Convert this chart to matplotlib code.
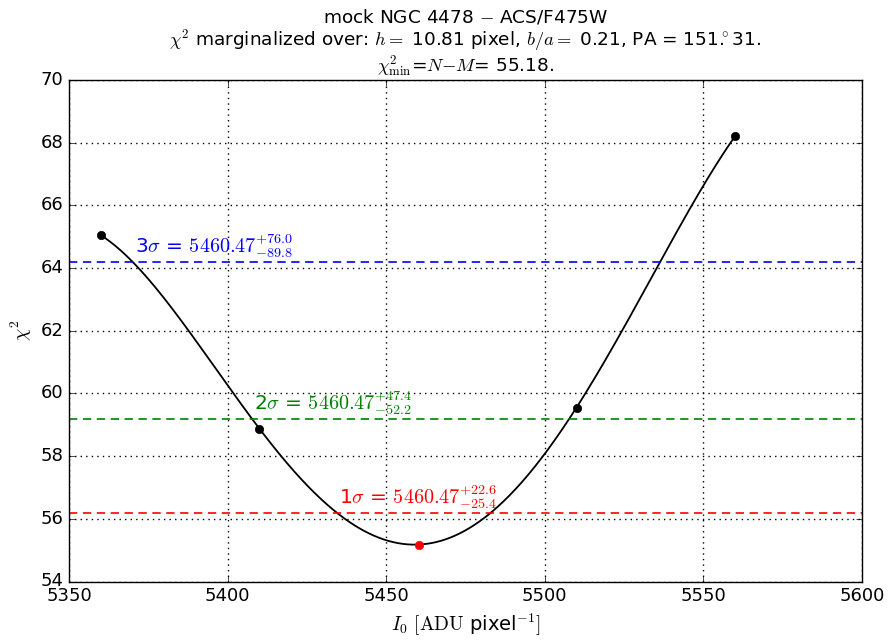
import numpy as np
import matplotlib
matplotlib.use("Agg")
import matplotlib.pyplot as plt

plt.style.use('classic')
plt.rcParams['mathtext.fontset'] = 'cm'
plt.rcParams['font.family'] = ['DejaVu Sans']

# data
I0 = [5360.0, 5410.0, 5460.47, 5510.0, 5560.0]
chi2 = [65.05, 58.88, 55.18, 59.55, 68.21]
best = 5460.47
chi2_min = 55.18
levels = [1, 2, 3]
delta = [1.0, 4.0, 9.0]
err_up = [22.6, 47.4, 76.0]
err_lo = [25.4, 52.2, 89.8]
colors = ['red', 'green', 'blue']

fig = plt.figure(figsize=(8.91, 6.41), dpi=100, facecolor='white')
ax = fig.add_axes([69 / 891, 1 - 581.5 / 641, (862 - 69) / 891, (581.5 - 80) / 641])

# smooth curve through the points (4th-order polynomial interpolant)
xc = np.asarray(I0) - best
coef = np.polyfit(xc, chi2, len(I0) - 1)
xs = np.linspace(I0[0], I0[-1], 400)
ax.plot(xs, np.polyval(coef, xs - best), color='black', lw=1.3)
for x, y in zip(I0, chi2):
    col = 'red' if x == best else 'black'
    ax.plot([x], [y], 'o', color=col, mec=col, ms=6)

for lv, d, eu, el, c in zip(levels, delta, err_up, err_lo, colors):
    ax.axhline(chi2_min + d, color=c, ls='--', lw=1.2, dashes=(6, 4))
    ax.text(best - el, chi2_min + d + 0.08,
            r'%d$\sigma$ = $%.2f^{+%.1f}_{-%.1f}$' % (lv, best, eu, el),
            color=c, fontsize=14.5, ha='left', va='bottom')

ax.set_xlim(5350, 5600)
ax.set_ylim(54, 70)
ax.set_xticks(np.arange(5350, 5601, 50))
ax.set_yticks(np.arange(54, 71, 2))
ax.grid(True, color='black', ls=':', lw=1)
ax.tick_params(labelsize=13, direction='in', top=True, right=True)
ax.set_xlabel(r'$I_0$ $[\mathrm{ADU}$ pixel$^{-1}]$', fontsize=14)
ax.set_ylabel(r'$\chi^2$', fontsize=14)
ax.set_title('mock NGC 4478 $-$ ACS/F475W\n'
             r'$\chi^2$ marginalized over: $h=$ 10.81 pixel, $b/a=$ 0.21, PA = 151.$\!\!^\circ$31.' '\n'
             r'$\chi^2_{\rm min}$=$N$$-$$M$= 55.18.', fontsize=13.3, linespacing=1.05, pad=6)

fig.savefig('out.png', dpi=100, facecolor='white')
